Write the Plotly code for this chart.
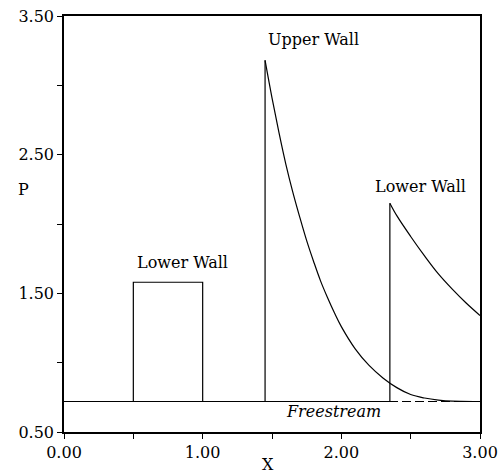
import plotly.graph_objects as go

# Freestream pressure level
p_free = 0.72

# Lower wall pressure: plateau from 0.5 to 1.0, then reflected shock at X=2.35
x_lower_flat = [0.0, 0.50, 0.50, 1.00, 1.00, 2.35, 2.35]
p_lower_flat = [0.72, 0.72, 1.58, 1.58, 0.72, 0.72, 2.15]
x_lower_decay = [2.35, 2.40, 2.50, 2.60, 2.70, 2.80, 2.90, 3.00]
p_lower_decay = [2.15, 2.06, 1.91, 1.77, 1.64, 1.53, 1.43, 1.34]

# Upper wall pressure: shock at X=1.45, then decay back to freestream
x_upper_flat = [0.0, 1.45, 1.45]
p_upper_flat = [0.72, 0.72, 3.18]
x_upper_decay = [1.45, 1.50, 1.55, 1.60, 1.65, 1.70, 1.75, 1.80, 1.85, 1.90, 1.95,
                 2.00, 2.10, 2.20, 2.30, 2.40, 2.50, 2.60, 2.70, 2.80, 3.00]
p_upper_decay = [3.18, 2.91, 2.66, 2.43, 2.23, 2.05, 1.88, 1.73, 1.59, 1.47, 1.36,
                 1.26, 1.10, 0.98, 0.89, 0.82, 0.77, 0.745, 0.73, 0.722, 0.72]

x_ticks = [0.0, 0.5, 1.0, 1.5, 2.0, 2.5, 3.0]
x_tick_text = ["0.00", "", "1.00", "", "2.00", "", "3.00"]
y_ticks = [0.5, 1.0, 1.5, 2.0, 2.5, 3.0, 3.5]
y_tick_text = ["0.50", "", "1.50", "", "2.50", "", "3.50"]

FONT = "DejaVu Serif"
LW = 1.2

fig = go.Figure()
fig.add_trace(go.Scatter(x=[0.0, 3.0], y=[p_free, p_free], mode="lines",
                         line=dict(color="black", width=LW, dash="9px,4px"),
                         showlegend=False, hoverinfo="skip"))
for xs, ys, shape in [(x_lower_flat, p_lower_flat, "linear"),
                      (x_lower_decay, p_lower_decay, "spline"),
                      (x_upper_flat, p_upper_flat, "linear"),
                      (x_upper_decay, p_upper_decay, "spline")]:
    fig.add_trace(go.Scatter(x=xs, y=ys, mode="lines",
                             line=dict(color="black", width=LW, shape=shape),
                             showlegend=False))

labels = [
    (1.80, 3.33, "Upper Wall", False),
    (2.57, 2.27, "Lower Wall", False),
    (0.857, 1.72, "Lower Wall", False),
    (1.94, 0.645, "Freestream", True),
]
for x, y, t, it in labels:
    fig.add_annotation(x=x, y=y, text=f"<i>{t}</i>" if it else t, showarrow=False,
                       font=dict(family=FONT, size=16, color="black"),
                       xanchor="center", yanchor="middle")

# Axis titles
fig.add_annotation(x=1.47, y=-0.077, xref="x", yref="paper", text="X", showarrow=False,
                   font=dict(family=FONT, size=16, color="black"), yanchor="middle")
fig.add_annotation(x=-0.115, y=0.582, xref="paper", yref="paper", text="P", showarrow=False,
                   font=dict(family=FONT, size=16, color="black"), yanchor="middle")

axis_common = dict(showline=True, mirror=True, linecolor="black", linewidth=1.6,
                   ticks="outside", ticklen=5, tickwidth=1, tickcolor="black",
                   showgrid=False, zeroline=False, automargin=False,
                   tickfont=dict(family=FONT, size=16, color="black"))
fig.update_xaxes(range=[0, 3], tickvals=x_ticks, ticktext=x_tick_text, **axis_common)
fig.update_yaxes(range=[0.5, 3.5], tickvals=y_ticks, ticktext=y_tick_text, **axis_common)

fig.update_layout(width=500, height=473, margin=dict(l=64, r=20, t=16, b=41),
                  paper_bgcolor="white", plot_bgcolor="white")

fig.write_html("out.html")
